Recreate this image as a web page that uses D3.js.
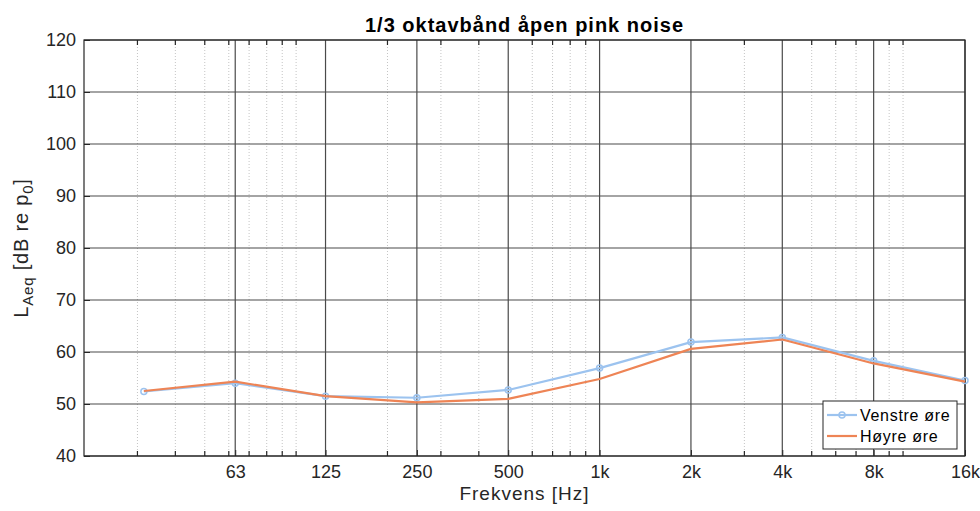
<!DOCTYPE html>
<html>
<head>
<meta charset="utf-8">
<script src="https://cdn.jsdelivr.net/npm/d3@7"></script>
<style>
  html, body { margin: 0; padding: 0; background: #fff; }
  svg { display: block; font-family: "Liberation Sans", Arial, Helvetica, sans-serif; }
</style>
</head>
<body>
<svg id="chart" width="980" height="511"></svg>
<script>
// Octave-band centre frequencies (Hz)
const frequencies = [31.5, 63, 125, 250, 500, 1000, 2000, 4000, 8000, 16000];
// Left ear LAeq per band (dB re p0)
const venstre = [52.4, 54.0, 51.5, 51.2, 52.7, 56.9, 61.9, 62.8, 58.3, 54.5];
// Right ear LAeq per band (dB re p0)
const hoyre = [52.5, 54.3, 51.5, 50.3, 51.0, 54.8, 60.6, 62.4, 57.8, 54.3];

const xTickValues = [63, 125, 250, 500, 1000, 2000, 4000, 8000, 16000];
const xTickLabels = ["63", "125", "250", "500", "1k", "2k", "4k", "8k", "16k"];
const yTickValues = [40, 50, 60, 70, 80, 90, 100, 110, 120];

const seriesNames = ["Venstre øre", "Høyre øre"];
const seriesColors = ["#9cc3ef", "#ee8455"];

const svg = d3.select("#chart");
const margin = { left: 84, right: 15, top: 40, bottom: 55 };
const W = 980, H = 511;

const x = d3.scaleLog().domain([20, 16000]).range([margin.left, W - margin.right]);
const y = d3.scaleLinear().domain([40, 120]).range([H - margin.bottom, margin.top]);

// minor log positions (k * 10^n) that are not labelled ticks
const minorVals = [];
for (let e = 1; e <= 4; e++) {
  for (let k = 1; k <= 9; k++) {
    const v = k * Math.pow(10, e);
    if (v > 20 && v < 16000 && !xTickValues.includes(v)) minorVals.push(v);
  }
}

const g = svg.append("g");

// minor vertical grid (dotted)
g.append("g").selectAll("line").data(minorVals).join("line")
  .attr("x1", d => x(d)).attr("x2", d => x(d))
  .attr("y1", y(40)).attr("y2", y(120))
  .attr("stroke", "#c4c4c4").attr("stroke-width", 1)
  .attr("stroke-dasharray", "1,2");

// major vertical grid
g.append("g").selectAll("line").data(xTickValues).join("line")
  .attr("x1", d => x(d)).attr("x2", d => x(d))
  .attr("y1", y(40)).attr("y2", y(120))
  .attr("stroke", "#4a4a4a").attr("stroke-width", 1.2);

// horizontal grid
g.append("g").selectAll("line").data(yTickValues).join("line")
  .attr("x1", x(20)).attr("x2", x(16000))
  .attr("y1", d => y(d)).attr("y2", d => y(d))
  .attr("stroke", "#4a4a4a").attr("stroke-width", 1.2);

// minor ticks, inward at top and bottom
const tickLen = 5;
g.append("g").selectAll("line").data(minorVals).join("line")
  .attr("x1", d => x(d)).attr("x2", d => x(d))
  .attr("y1", y(40)).attr("y2", y(40) - tickLen)
  .attr("stroke", "#262626").attr("stroke-width", 1.2);
g.append("g").selectAll("line").data(minorVals).join("line")
  .attr("x1", d => x(d)).attr("x2", d => x(d))
  .attr("y1", y(120)).attr("y2", y(120) + tickLen)
  .attr("stroke", "#262626").attr("stroke-width", 1.2);

// axes (ticks drawn inward, labels outside)
const xAxis = d3.axisBottom(x).tickValues(xTickValues)
  .tickFormat((d, i) => xTickLabels[i]).tickSizeInner(-6).tickSizeOuter(0).tickPadding(9);
const xg = svg.append("g").attr("transform", `translate(0,${y(40)})`).call(xAxis);
xg.select(".domain").remove();
xg.selectAll(".tick line").attr("stroke", "#262626");
xg.selectAll("text").attr("font-size", 18).attr("fill", "#262626").attr("dy", "0.71em");

const yAxis = d3.axisLeft(y).tickValues(yTickValues).tickSizeInner(-6).tickSizeOuter(0).tickPadding(8);
const yg = svg.append("g").attr("transform", `translate(${x(20)},0)`).call(yAxis);
yg.select(".domain").remove();
yg.selectAll(".tick line").attr("stroke", "#262626");
yg.selectAll("text").attr("font-size", 18).attr("fill", "#262626");

// axes box
svg.append("rect")
  .attr("x", x(20)).attr("y", y(120))
  .attr("width", x(16000) - x(20)).attr("height", y(40) - y(120))
  .attr("fill", "none").attr("stroke", "#262626").attr("stroke-width", 1.2);

// data lines
const line = d3.line().x(d => x(d[0])).y(d => y(d[1]));
const seriesData = [venstre, hoyre].map(vals => frequencies.map((f, i) => [f, vals[i]]));

seriesData.forEach((pts, si) => {
  svg.append("path").datum(pts)
    .attr("d", line).attr("fill", "none")
    .attr("stroke", seriesColors[si]).attr("stroke-width", 2.2)
    .attr("stroke-linejoin", "round");
  if (si === 0) {
    svg.append("g").selectAll("circle").data(pts).join("circle")
      .attr("cx", d => x(d[0])).attr("cy", d => y(d[1])).attr("r", 3)
      .attr("fill", "none").attr("stroke", seriesColors[si]).attr("stroke-width", 1.5);
  }
});

// title
svg.append("text").attr("x", (x(20) + x(16000)) / 2).attr("y", 32)
  .attr("text-anchor", "middle").attr("font-size", 20).attr("font-weight", "bold")
  .attr("letter-spacing", 1)
  .attr("fill", "#000").text("1/3 oktavbånd åpen pink noise");

// x label
svg.append("text").attr("x", (x(20) + x(16000)) / 2).attr("y", 500)
  .attr("text-anchor", "middle").attr("font-size", 19).attr("fill", "#262626")
  .attr("letter-spacing", 1)
  .text("Frekvens [Hz]");

// y label with subscripts
const yl = svg.append("text")
  .attr("transform", `translate(28,${(y(40) + y(120)) / 2}) rotate(-90)`)
  .attr("text-anchor", "middle").attr("font-size", 20).attr("fill", "#262626")
  .attr("letter-spacing", 0.8);
yl.append("tspan").text("L");
yl.append("tspan").attr("font-size", 15).attr("dy", 5).text("Aeq");
yl.append("tspan").attr("dy", -5).text(" [dB re p");
yl.append("tspan").attr("font-size", 15).attr("dy", 5).text("0");
yl.append("tspan").attr("dy", -5).text("]");

// legend
const lg = svg.append("g").attr("transform", "translate(823,401)");
lg.append("rect").attr("width", 134).attr("height", 48)
  .attr("fill", "#fff").attr("stroke", "#262626").attr("stroke-width", 1);
seriesNames.forEach((name, i) => {
  const ly = 14 + i * 21;
  lg.append("line").attr("x1", 4).attr("x2", 34).attr("y1", ly).attr("y2", ly)
    .attr("stroke", seriesColors[i]).attr("stroke-width", 2.2);
  if (i === 0) {
    lg.append("circle").attr("cx", 19).attr("cy", ly).attr("r", 3)
      .attr("fill", "none").attr("stroke", seriesColors[i]).attr("stroke-width", 1.5);
  }
  lg.append("text").attr("x", 37).attr("y", ly).attr("dy", "0.35em")
    .attr("font-size", 16).attr("letter-spacing", 0.7)
    .attr("fill", "#000").text(name);
});
</script>
</body>
</html>
